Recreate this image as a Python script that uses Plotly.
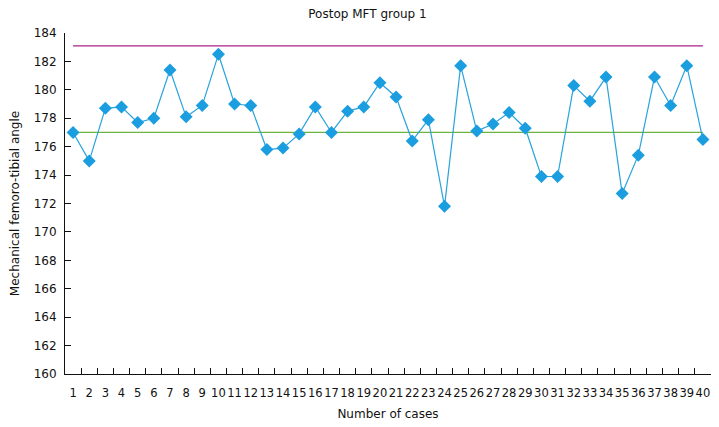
import plotly.graph_objects as go

cases = [str(i) for i in range(1, 41)]
angles = [177.0, 175.0, 178.7, 178.8, 177.7, 178.0, 181.4, 178.1, 178.9, 182.5,
          179.0, 178.9, 175.8, 175.9, 176.9, 178.8, 177.0, 178.5, 178.8, 180.5,
          179.5, 176.4, 177.9, 171.8, 181.7, 177.1, 177.6, 178.4, 177.3, 173.9,
          173.9, 180.3, 179.2, 180.9, 172.7, 175.4, 180.9, 178.9, 181.7, 176.5]
mean_angle = 177.0
upper_angle = 183.1
y_ticks = list(range(160, 185, 2))

font = "DejaVu Sans, Verdana, sans-serif"

fig = go.Figure()
fig.add_trace(go.Scatter(x=cases, y=[upper_angle] * len(cases), mode="lines",
                         line=dict(color="#a5228a", width=1.2), hoverinfo="skip"))
fig.add_trace(go.Scatter(x=cases, y=[mean_angle] * len(cases), mode="lines",
                         line=dict(color="#6db33f", width=1.2), hoverinfo="skip"))
fig.add_trace(go.Scatter(x=cases, y=angles, mode="lines+markers",
                         line=dict(color="#29a3dc", width=1.2),
                         marker=dict(symbol="diamond", size=10, color="#1a9ee0")))

# the page body adds an 8px offset, so margins are shifted to compensate
fig.update_layout(
    width=719, height=427,
    margin=dict(l=57, r=16, t=25, b=61),
    paper_bgcolor="white", plot_bgcolor="white",
    showlegend=False,
    font=dict(family=font, size=12, color="#111"),
    title=dict(text="Postop MFT group 1", x=0.5, xanchor="center", y=0.986,
               yanchor="middle", font=dict(size=12)),
    xaxis=dict(type="category", tickson="boundaries", ticks="inside", ticklen=6,
               range=[-0.5, len(cases) - 0.5], tickangle=0, dtick=1,
               automargin=False, ticklabelstandoff=8,
               tickcolor="#111", showline=True, linecolor="#111", linewidth=1,
               showgrid=False, zeroline=False, tickfont=dict(size=11.5),
               title=dict(text="Number of cases", font=dict(size=12), standoff=10)),
    yaxis=dict(range=[160, 184], tickvals=y_ticks, ticks="inside", ticklen=6,
               automargin=False, ticklabelstandoff=5,
               tickcolor="#111", showline=True, linecolor="#111", linewidth=1,
               showgrid=False, zeroline=False, tickfont=dict(size=12),
               title=dict(text="Mechanical femoro-tibial angle", font=dict(size=12),
                          standoff=19)),
)

fig.write_html("out.html")
